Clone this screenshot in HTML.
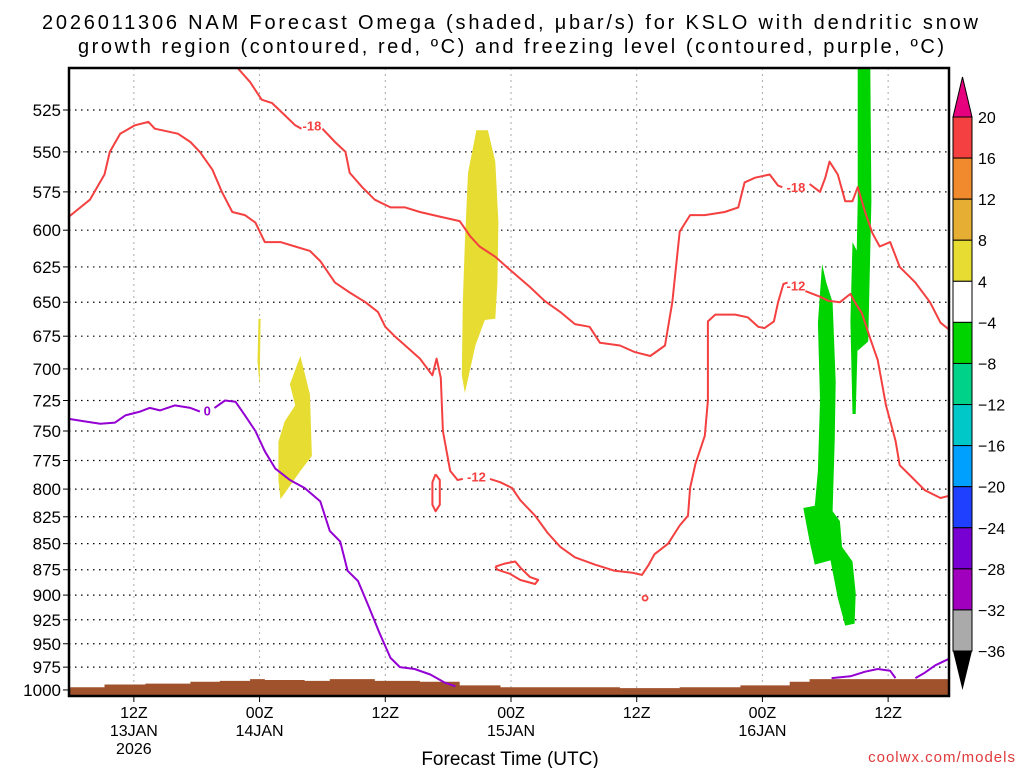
<!DOCTYPE html>
<html><head><meta charset="utf-8"><style>
html,body{margin:0;padding:0;background:#fff;}
svg{display:block;font-family:"Liberation Sans",sans-serif;}
</style></head><body>
<svg id="chart" width="1024" height="768" viewBox="0 0 1024 768">
<text x="42" y="29" font-size="20" textLength="936" lengthAdjust="spacing">2026011306 NAM Forecast Omega (shaded, μbar/s) for KSLO with dendritic snow</text>
<text x="78" y="53" font-size="20" textLength="866" lengthAdjust="spacing">growth region (contoured, red, ºC) and freezing level (contoured, purple, ºC)</text>
<g id="grid"></g>
<g id="shade"></g>
<g id="lines"></g>
<g id="axes"></g>
<g id="cbar"></g>
<text x="510" y="765" text-anchor="middle" font-size="19">Forecast Time (UTC)</text>
<text x="1016" y="762" text-anchor="end" font-size="15" fill="#e03a3a" letter-spacing="1">coolwx.com/models</text>
</svg>
<script>
const pLevels=[525,550,575,600,625,650,675,700,725,750,775,800,825,850,875,900,925,950,975,1000];
const xTickHours=[6,18,30,42,54,66,78];
const xTickLabels=[["12Z","13JAN","2026"],["00Z","14JAN"],["12Z"],["00Z","15JAN"],["12Z"],["00Z","16JAN"],["12Z"]];
const cbarLabels=["20","16","12","8","4","-4","-8","-12","-16","-20","-24","-28","-32","-36"];
const cbarColors=["#f44040","#f08a2c","#e6ae32","#e6dc32","#ffffff","#00d400","#00d28a","#00c8c8","#00a0ff","#2040ff","#7800d2","#a000be","#aaaaaa"];
const redMinus12=[[-0.3,591],[1.8,580],[3.2,564],[3.7,550],[4.7,539],[6.1,534],[7.4,532],[8.0,536],[10.2,539],[11.4,544],[12.3,550],[13.5,561],[14.4,575],[15.4,588],[16.6,590],[17.6,595],[18.5,608],[20.0,608],[21.4,611],[22.8,614],[23.8,621],[25.2,636],[26.6,643],[28.1,650],[29.3,657],[30.0,668],[30.9,675],[31.9,682],[33.3,692],[34.5,705],[34.9,692],[35.3,707],[35.5,750],[36.2,784],[36.9,792],[37.4,791]];
const redMinus12a=[[40.0,791],[41.0,794],[42.1,799],[42.9,810],[44.3,824],[45.5,840],[46.7,853],[48.1,863],[50.0,870],[51.9,876],[53.6,878],[54.5,880],[55.1,871],[55.7,860],[57.0,850],[58.1,833],[58.9,824],[59.1,799],[59.6,778],[60.5,754],[60.8,725],[60.8,664],[61.5,659],[63.4,659],[64.6,661],[65.6,668],[66.2,669],[67.1,664],[67.5,650],[68.0,637],[68.4,636]];
const redMinus12b=[[70.1,642],[71.5,646],[72.3,649],[73.4,650],[74.4,644],[74.9,651],[75.5,658],[76.3,677],[77.0,693],[77.8,729],[78.7,758],[79.1,779],[80.1,788],[81.5,801],[83.0,808],[84.2,806]];
const redMinus18=[[15.9,501],[17.1,509],[18.2,519],[19.2,521],[20.4,528],[21.4,534],[22.0,536]];
const redMinus18b=[[24.0,536],[25.2,544],[26.2,550],[26.6,563],[27.8,572],[29.0,580],[30.5,585],[31.9,585],[33.3,588],[35.2,591],[37.1,594],[38.1,604],[39.0,611],[40.5,618],[41.9,627],[43.8,639],[45.2,649],[46.7,657],[48.1,666],[49.5,668],[50.5,680],[52.4,682],[53.8,687],[55.3,690],[56.7,682],[57.4,650],[58.1,601],[59.1,590],[60.5,590],[62.4,588],[63.7,585],[64.3,569],[65.3,566],[66.7,564],[67.5,571],[67.9,572]];
const redMinus18c=[[70.5,570],[71.5,575],[72.0,566],[72.4,556],[73.2,564],[73.9,581],[74.6,581],[75.1,572],[75.8,588],[76.5,602],[77.2,611],[78.2,608],[79.1,625],[80.6,636],[82.0,650],[83.0,665],[84.2,670]];
const redLoop1=[[34.8,787],[35.2,792],[35.2,814],[34.8,820],[34.5,814],[34.5,794],[34.8,787]];
const redLoop2=[[40.5,872],[41.4,869],[42.4,867],[42.9,873],[43.8,882],[44.6,885],[44.3,889],[42.9,885],[41.9,879],[40.7,875],[40.5,872]];
const redDot=[54.8,903];
const purpleA=[[-0.3,740],[1.3,742],[2.8,744],[4.2,743],[5.2,737],[6.6,734],[7.5,731],[8.5,733],[9.9,729],[11.4,731],[12.3,734]];
const purpleB=[[13.7,731],[14.7,725],[15.7,726],[16.6,737],[17.6,750],[18.5,767],[19.5,782],[20.9,792],[22.3,799],[23.8,811],[24.7,838],[25.7,848],[26.4,876],[27.4,886],[28.4,911],[29.5,940],[30.5,965],[31.4,975],[32.8,977],[34.3,983],[35.7,992],[36.7,996]];
const purpleC=[[72.6,987],[74.4,985],[75.8,980],[77.0,977],[78.2,979],[78.7,987]];
const purpleD=[[80.6,987],[81.5,981],[82.5,973],[84.2,966]];
const terrainHours=[-0.5,3.2,7.1,11.4,14.2,17.1,18.5,22.3,24.7,29.0,33.3,37.1,41.0,46.7,52.4,58.1,63.9,68.6,70.5,77.2,84.2];
const terrainP=[997,994,993,991,990,988,989,990,988,990,991,995,997,997,998,997,995,991,988,988,988];
const yellowA=[[38.7,537],[39.8,537],[40.5,556],[40.8,595],[40.7,636],[40.5,662],[39.5,663],[38.6,682],[37.6,719],[37.3,705],[37.4,650],[37.6,608],[37.9,563]];
const yellowB=[[21.9,690],[22.8,720],[23.0,771],[21.9,784],[20.0,809],[19.8,792],[19.8,759],[20.4,742],[21.4,729],[20.9,712]];
const yellowC=[[17.9,662],[18.1,662],[18.0,713],[17.8,694]];
const greenA=[[71.7,623],[72.1,636],[72.7,650],[73.0,710],[72.9,758],[72.7,820],[73.4,829],[73.6,853],[74.6,867],[74.9,898],[74.8,929],[73.9,931],[73.2,903],[72.5,866],[71.0,870],[70.5,848],[69.9,817],[71.0,815],[71.3,784],[71.5,725],[71.3,665]];
const greenB=[[75.1,501],[76.3,501],[76.4,581],[76.1,679],[75.1,686],[74.9,650],[75.1,581]];
const greenC=[[74.6,608],[75.1,615],[75.1,679],[74.9,736],[74.6,736],[74.4,664]];

const PL=69,PR=949,PT=68,PB=696;
const NS="http://www.w3.org/2000/svg";
function xs(h){return Math.max(PL,Math.min(PR,71+h*10.476));}
function ys(p){return Math.max(PT,Math.min(PB,110+900*Math.log(p/525)));}
function mk(tag,attrs,parent){const e=document.createElementNS(NS,tag);for(const k in attrs)e.setAttribute(k,attrs[k]);parent.appendChild(e);return e;}
const gridG=document.getElementById('grid'),shadeG=document.getElementById('shade'),linesG=document.getElementById('lines'),axesG=document.getElementById('axes'),cbarG=document.getElementById('cbar');
function pts(a){return a.map(d=>xs(d[0]).toFixed(1)+","+ys(d[1]).toFixed(1)).join(" ");}

pLevels.forEach(p=>{
  const y=ys(p);
  const g=mk('line',{x1:PL,x2:PR,y1:y,y2:y,stroke:"#000","stroke-width":1.2,"stroke-dasharray":"1.5,4.5"},gridG);
  
  
  const t=mk('text',{x:61,y:y+6,"text-anchor":"end","font-size":17},axesG);
  t.textContent=p;
  
  
  const tk=mk('line',{x1:PL-6,x2:PL,y1:y,y2:y,stroke:"#000","stroke-width":1},axesG);
  
  
});
xTickHours.forEach((h,i)=>{
  const x=xs(h);
  const g=mk('line',{x1:x,x2:x,y1:PT,y2:PB,stroke:"#aaa","stroke-width":1,"stroke-dasharray":"2,4"},gridG);
  
  
  const tk=mk('line',{x1:x,x2:x,y1:PB,y2:PB+6,stroke:"#000","stroke-width":1},axesG);
  
  
  xTickLabels[i].forEach((s,j)=>{
    const t=mk('text',{x:x,y:PB+22+j*18,"text-anchor":"middle","font-size":16},axesG);
    t.textContent=s;
    
    
  });
});
let d="M"+PL+","+PB;
terrainHours.forEach((h,i)=>{const x=xs(h),y=ys(terrainP[i]);d+=" L"+x.toFixed(1)+","+(i?ys(terrainP[i-1]).toFixed(1):y.toFixed(1))+" L"+x.toFixed(1)+","+y.toFixed(1);});
d+=" L"+PR+","+PB+" Z";
const terr=mk('path',{d:d,fill:"#a0522d"},shadeG);


[[yellowA,"#e6dc32"],[yellowB,"#e6dc32"],[yellowC,"#e6dc32"],[greenA,"#00d400"],[greenB,"#00d400"],[greenC,"#00d400"]].forEach(([a,c])=>{
  const s=mk('polygon',{points:pts(a),fill:c},shadeG);
  
  
});
[redMinus12,redMinus12a,redMinus12b,redMinus18,redMinus18b,redMinus18c,redLoop1,redLoop2].forEach(a=>{
  const l=mk('polyline',{points:pts(a),fill:"none",stroke:"#f44040","stroke-width":2,"stroke-linejoin":"round"},linesG);
  
  
});
const dot=mk('circle',{cx:xs(redDot[0]),cy:ys(redDot[1]),r:2.5,fill:"none",stroke:"#f44040","stroke-width":1.8},linesG);


[purpleA,purpleB,purpleC,purpleD].forEach(a=>{
  const l=mk('polyline',{points:pts(a),fill:"none",stroke:"#9400d3","stroke-width":2,"stroke-linejoin":"round"},linesG);
  
  
});
[[23.0,534,"-18","#f44040"],[38.7,789,"-12","#f44040"],[69.2,572,"-18","#f44040"],[69.2,638,"-12","#f44040"],[13.0,733,"0","#9400d3"]].forEach(([h,p,s,c])=>{
  const t=mk('text',{x:xs(h),y:ys(p)+5,"text-anchor":"middle","font-size":13,"font-weight":"bold",fill:c},linesG);
  t.textContent=s;
  
  
});
const frame=mk('rect',{x:PL,y:PT,width:PR-PL,height:PB-PT,fill:"none",stroke:"#000","stroke-width":2.5},axesG);


const cx=953,cw=19,cTop=117,cStep=(651-117)/13;
cbarColors.forEach((c,i)=>{
  const r=mk('rect',{x:cx,y:cTop+i*cStep,width:cw,height:cStep,fill:c,stroke:"#000","stroke-width":1},cbarG);
  
  
});
const tu=mk('polygon',{points:`${cx},${cTop} ${cx+cw},${cTop} ${cx+cw/2},77`,fill:"#e6007e",stroke:"#000","stroke-width":1},cbarG);


const tl=mk('polygon',{points:`${cx},651 ${cx+cw},651 ${cx+cw/2},690`,fill:"#000"},cbarG);


cbarLabels.forEach((s,i)=>{
  const t=mk('text',{x:978,y:cTop+i*cStep+6,"font-size":16},cbarG);
  t.textContent=s.replace("-","−");
  
  
});
</script>
</body></html>
